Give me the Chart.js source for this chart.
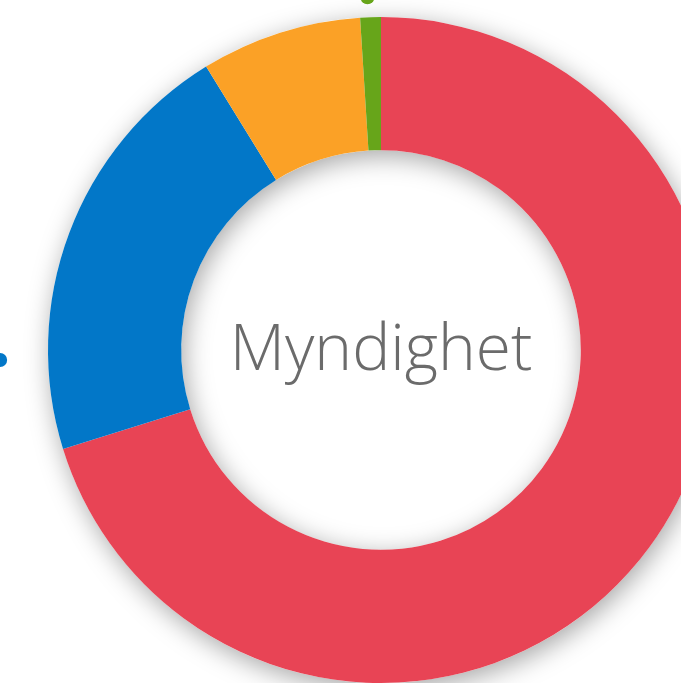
<!DOCTYPE html>
<html>
<head>
<meta charset="utf-8">
<script src="https://cdn.jsdelivr.net/npm/chart.js@4"></script>
<style>
  html, body { margin: 0; padding: 0; background: #fff; overflow: hidden; width: 681px; height: 683px; }
  #wrap { position: absolute; left: 0; top: 0; width: 800px; height: 800px; }
  #center-label {
    position: absolute; left: 381px; top: 346px; transform: translate(-50%, -50%);
    font-family: 'Open Sans', sans-serif; font-weight: 300; font-size: 64px;
    color: #6b6b6b; white-space: nowrap; line-height: 1;
  }
</style>
</head>
<body>
<div id="wrap"><canvas id="chart-myndighet"></canvas></div>
<div id="center-label">Myndighet</div>
<script>
/* ── Data ── */
const labels = ['Röd', 'Blå', 'Orange', 'Grön'];
const values = [70.2, 21.0, 7.8, 1.0];
const colors = ['#e84455', '#0277c8', '#fba126', '#67a51a'];

/* ring shadow behind the arcs */
const ringShadow = {
  id: 'ringShadow',
  beforeDatasetsDraw(chart) {
    const arc = chart.getDatasetMeta(0).data[0];
    if (!arc) return;
    const ctx = chart.ctx;
    ctx.save();
    ctx.shadowColor = 'rgba(0,0,0,0.35)';
    ctx.shadowBlur = 26;
    ctx.shadowOffsetX = 3;
    ctx.shadowOffsetY = 6;
    ctx.fillStyle = '#fff';
    ctx.beginPath();
    ctx.arc(arc.x, arc.y, arc.outerRadius, 0, Math.PI * 2);
    ctx.arc(arc.x, arc.y, arc.innerRadius, 0, Math.PI * 2, true);
    ctx.fill('evenodd');
    ctx.restore();
  }
};

/* small label markers outside the ring */
const markers = {
  id: 'markers',
  afterDatasetsDraw(chart, args, opts) {
    const arc = chart.getDatasetMeta(0).data[0];
    if (!arc) return;
    const ctx = chart.ctx;
    opts.points.forEach(p => {
      const a = (p.angle - 90) * Math.PI / 180;
      const r = arc.outerRadius + p.gap;
      ctx.beginPath();
      ctx.fillStyle = colors[p.index];
      ctx.arc(arc.x + Math.cos(a) * r, arc.y + Math.sin(a) * r, 7, 0, Math.PI * 2);
      ctx.fill();
    });
  }
};

new Chart(document.getElementById('chart-myndighet'), {
  type: 'doughnut',
  data: {
    labels,
    datasets: [{
      data: values,
      backgroundColor: colors,
      borderWidth: 0,
      hoverOffset: 0
    }]
  },
  options: {
    responsive: true, maintainAspectRatio: false, animation: false,
    cutout: '60%',
    layout: { padding: { left: 48, top: 17, right: 86, bottom: 117 } },
    plugins: {
      legend: { display: false },
      tooltip: { enabled: false },
      markers: { points: [ { index: 1, angle: 268.5, gap: 48 }, { index: 3, angle: 357.8, gap: 20 } ] }
    }
  },
  plugins: [ringShadow, markers]
});
</script>
</body>
</html>
